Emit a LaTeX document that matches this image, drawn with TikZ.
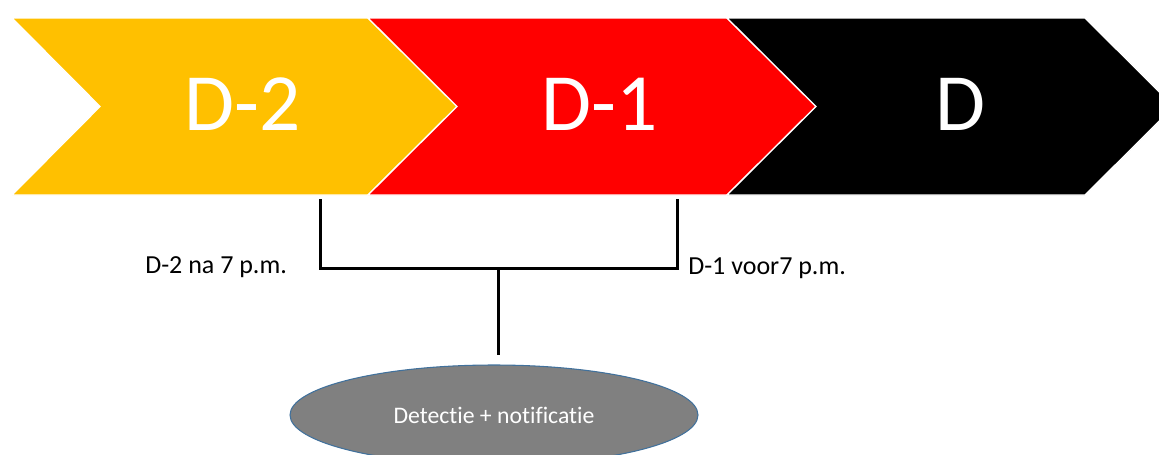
\documentclass[tikz,border=0pt]{standalone}
\usepackage{fontspec}
\setmainfont[Ligatures=NoCommon]{Carlito}
\usetikzlibrary{shapes.geometric}
\definecolor{amber}{HTML}{FFC000}
\definecolor{pure red}{HTML}{FF0000}
\definecolor{ovalfill}{HTML}{808080}
\definecolor{ovaledge}{HTML}{41719C}
\tikzset{
  chevron/.style={draw=white, line width=1pt, line join=miter},
  daytext/.style={text=white, anchor=base, inner sep=0pt, font=\fontsize{61}{70}\selectfont},
  note/.style={text=black, anchor=base west, inner sep=0pt, font=\fontsize{19.5}{23}\selectfont},
  bracket/.style={line width=2.25pt, line cap=rect},
  oval/.style={ellipse, fill=ovalfill, draw=ovaledge, line width=0.8pt, inner sep=0pt,
    minimum width=306pt, minimum height=75pt, text=white, font=\fontsize{17.8}{21}\selectfont}
}
\begin{document}
\begin{tikzpicture}[x=0.75pt, y=-0.75pt]
\useasboundingbox (0,0) rectangle (1159,454);
\begin{scope}
\clip (0,0) rectangle (1159,454);
% three chevrons of the timeline
\fill[amber, chevron] (12,18) -- (368,18) -- (457,106.5) -- (368,195) -- (12,195) -- (100,106.5) -- cycle;
\fill[pure red, chevron] (368,18) -- (727,18) -- (816,106.5) -- (727,195) -- (368,195) -- (457,106.5) -- cycle;
\fill[black, chevron] (727,18) -- (1085,18) -- (1174,106.5) -- (1085,195) -- (727,195) -- (816,106.5) -- cycle;

\node[daytext] (d2) at (243,130) {D-2};
\node[daytext] (d1) at (600,130) {D-1};
\node[daytext] (d0) at (961,130) {D};

% bracket joining the two moments
\coordinate (lt) at (320,200);
\coordinate (lb) at (320,268);
\coordinate (rt) at (677,200);
\coordinate (rb) at (677,268);
\coordinate (mid) at (498,268);
\draw[bracket] (lt) -- (lb) -- (rb) -- (rt);

\node[note] (n2) at (145,273) {D-2 na 7 p.m.};
\node[note] (n1) at (688,274) {D-1 voor7 p.m.};

\node[oval] (det) at (494,415) {Detectie + notificatie};
\coordinate (stem) at (498,355);
\draw[bracket, line cap=butt] (mid) -- (stem);
\end{scope}
\end{tikzpicture}
\end{document}
